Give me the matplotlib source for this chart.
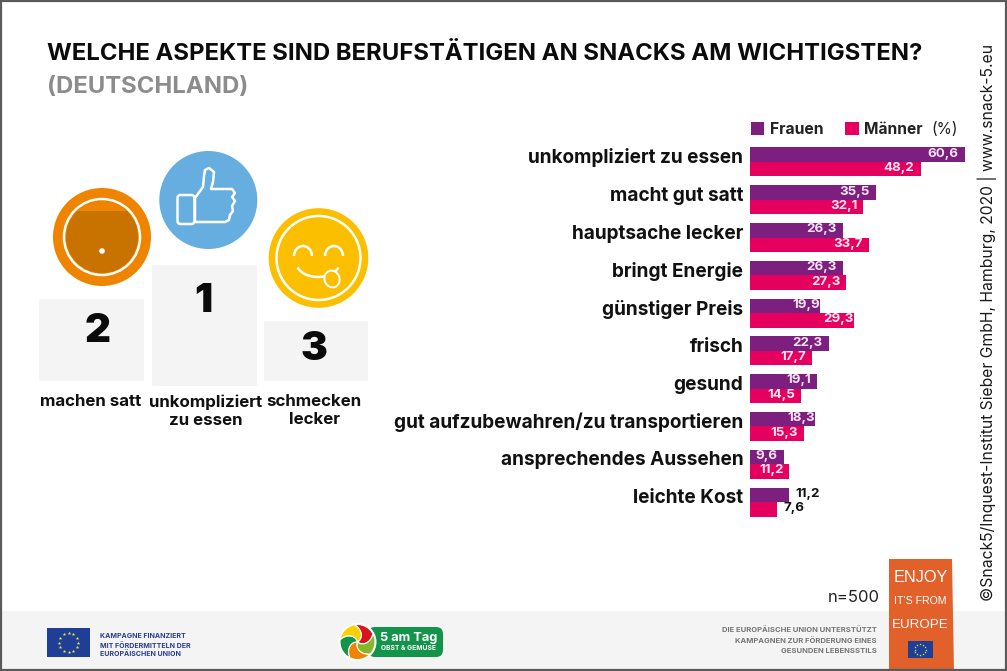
import numpy as np
import matplotlib
matplotlib.use('Agg')
import matplotlib.pyplot as plt
from matplotlib.patches import Circle, FancyBboxPatch, Rectangle, Polygon, Arc, Ellipse
from matplotlib.transforms import ScaledTranslation

# Daten
categories = ['unkompliziert zu essen', 'macht gut satt', 'hauptsache lecker', 'bringt Energie',
              'günstiger Preis', 'frisch', 'gesund', 'gut aufzubewahren/zu transportieren',
              'ansprechendes Aussehen', 'leichte Kost']
frauen = [60.6, 35.5, 26.3, 26.3, 19.9, 22.3, 19.1, 18.3, 9.6, 11.2]
maenner = [48.2, 32.1, 33.7, 27.3, 29.3, 17.7, 14.5, 15.3, 11.2, 7.6]
podium_ranks = ['2', '1', '3']
podium_labels = ['machen satt', 'unkompliziert\nzu essen', 'schmecken\nlecker']

W, H = 1007, 671
LILA = '#7d1f7f'
PINK = '#e5005f'
plt.rcParams['font.family'] = ['Inter', 'DejaVu Sans']

fig = plt.figure(figsize=(W / 100, H / 100), dpi=100)

# Hintergrund-Achse in Pixelkoordinaten
bg = fig.add_axes([0, 0, 1, 1])
bg.set_xlim(0, W)
bg.set_ylim(H, 0)
bg.axis('off')

bg.add_patch(Rectangle((0, 611), W, 60, fc='#f4f4f4', ec='none'))
bg.add_patch(Rectangle((0.5, 0.5), W - 2, H - 2, fc='none', ec='#5a5a5a', lw=1.6, zorder=10))

bg.text(47, 53.5, 'WELCHE ASPEKTE SIND BERUFSTÄTIGEN AN SNACKS AM WICHTIGSTEN?', fontsize=17.2,
        fontweight='bold', color='#0b0b0b', va='center', ha='left')
bg.text(47, 87, '(DEUTSCHLAND)', fontsize=17.2, fontweight='bold', color='#8c8c8c', va='center', ha='left')

# Podest
for x0, y0, x1, y1, rank, rx, ry in [(39, 299, 144, 381, podium_ranks[0], 98, 331),
                                     (152, 265, 257, 386, podium_ranks[1], 203, 301),
                                     (264, 321, 368, 381, podium_ranks[2], 314, 349)]:
    bg.add_patch(FancyBboxPatch((x0 + 2, y0 + 2), x1 - x0 - 4, y1 - y0 - 4,
                                boxstyle='round,pad=2', fc='#f4f4f4', ec='none'))
    bg.text(rx, ry, rank, fontsize=29, fontweight='black', color='#0b0b0b', ha='center', va='center')

for x, y, txt in [(91, 401, podium_labels[0]), (206, 411, podium_labels[1]), (314, 411, podium_labels[2])]:
    bg.text(x, y, txt, fontsize=12.2, fontweight='bold', color='#111111', ha='center', va='center', linespacing=1.25)

# Icon 2: Teller
bg.add_patch(Circle((102, 237), 49, fc='#ee8400', ec='none'))
bg.add_patch(Circle((102, 237), 38, fc='#ee8400', ec='white', lw=1.8))
bg.add_patch(Circle((102, 237), 36, fc='#c87300', ec='none'))
cut = Rectangle((60, 190), 84, 21, fc='#ee8400', ec='none')
bg.add_patch(cut)
cut.set_clip_path(Circle((102, 237), 36, transform=bg.transData))
bg.add_patch(Circle((102, 251), 2.8, fc='white', ec='none'))

# Icon 1: Daumen
bg.add_patch(Circle((208.3, 200), 49, fc='#66aee0', ec='none'))
bg.add_patch(FancyBboxPatch((177.5, 195), 17, 29, boxstyle='round,pad=0,rounding_size=3', fc='none', ec='white', lw=1.8))
thumb = [(195, 198), (203, 187), (204, 176), (205, 170), (209, 168), (214, 172), (213, 182), (211, 189),
         (232, 189), (235, 193), (232, 197), (235, 201), (232, 206), (233, 211), (230, 215), (229, 220), (225, 222),
         (195, 222)]
bg.add_patch(Polygon(thumb, closed=True, fc='none', ec='white', lw=1.8, joinstyle='round'))

# Icon 3: Smiley
bg.add_patch(Circle((318.5, 258), 49.8, fc='#fcbf00', ec='none'))
bg.add_patch(Circle((318.5, 258), 42, fc='none', ec='white', lw=1.8))
bg.add_patch(Arc((303, 256), 18, 20, theta1=180, theta2=360, ec='white', lw=1.8))
bg.add_patch(Arc((334, 256), 18, 20, theta1=180, theta2=360, ec='white', lw=1.8))
bg.add_patch(Arc((318, 262), 44, 30, theta1=15, theta2=165, ec='white', lw=1.8))
bg.add_patch(Ellipse((332, 279), 15, 17, angle=-20, fc='#fcbf00', ec='white', lw=1.4))

# Balken: x in Prozent, 3.545 px pro Prozentpunkt
x0_px, y_top, y_bot = 749.7, 143.1, 520.9
ax = fig.add_axes([x0_px / W, 1 - y_bot / H, 215 / W, (y_bot - y_top) / H])
ax.patch.set_alpha(0)
y = np.arange(len(categories))
bar_h = 14.5 / 37.8
ax.barh(y - bar_h / 2, frauen, height=bar_h, color=LILA)
ax.barh(y + bar_h / 2, maenner, height=bar_h, color=PINK)
ax.set_xlim(0, 215 / 3.545)
ax.set_ylim(len(categories) - 0.5, -0.5)
for s in ax.spines.values():
    s.set_visible(False)
ax.set_xticks([])
ax.set_yticks(y)
ax.set_yticklabels(categories, fontsize=13.7, fontweight='bold', color='#111111')
ax.tick_params(axis='y', length=0, pad=4.5)
# Beschriftungen stehen im Original etwas ueber der Gruppenmitte
for lab in ax.get_yticklabels():
    lab.set_transform(lab.get_transform() + ScaledTranslation(0, 0.06, fig.dpi_scale_trans))


def wert(v):
    return str(v).replace('.', ',')


# Werte sitzen im Original nicht ganz einheitlich: diese stehen buendig am Balkenende
buendig = {(4, 'f'), (4, 'm'), (7, 'f')}
letzte = len(categories) - 1
for i in range(letzte):
    ax.annotate(wert(frauen[i]), (frauen[i], i - bar_h / 2), xytext=(0 if (i, 'f') in buendig else -6, 1),
                textcoords='offset pixels', fontsize=9.6, fontweight='bold', color='#f3e4f2', ha='right', va='center')
    ax.annotate(wert(maenner[i]), (maenner[i], i + bar_h / 2), xytext=(0 if (i, 'm') in buendig else -6, 1),
                textcoords='offset pixels', fontsize=9.6, fontweight='bold', color='#fde6ef', ha='right', va='center')
# letzte Gruppe: Werte ausserhalb der Balken, schwarz
ax.annotate(wert(frauen[letzte]), (frauen[letzte], letzte - bar_h / 2), xytext=(6, 1), textcoords='offset pixels',
            fontsize=9.6, fontweight='bold', color='#111111', ha='left', va='center')
ax.annotate(wert(maenner[letzte]), (maenner[letzte], letzte + bar_h / 2), xytext=(7, 1), textcoords='offset pixels',
            fontsize=9.6, fontweight='bold', color='#111111', ha='left', va='center')

# Legende
bg.add_patch(Rectangle((751, 122), 13, 13, fc=LILA, ec='none'))
bg.text(770, 129.5, 'Frauen', fontsize=11.3, fontweight='bold', color='#222222', va='center')
bg.add_patch(Rectangle((845, 122), 14, 13, fc=PINK, ec='none'))
bg.text(864, 129.5, 'Männer', fontsize=11.2, fontweight='bold', color='#222222', va='center')
bg.text(931, 129.5, '(%)', fontsize=11.2, color='#222222', va='center')

# Quelle rechts
bg.text(987, 322, '©Snack5/Inquest-Institut Sieber GmbH, Hamburg, 2020 | www.snack-5.eu', rotation=90,
        fontsize=11.3, color='#1a1a1a', ha='center', va='center')
bg.text(880, 597, 'n=500', fontsize=12, color='#222222', ha='right', va='center')


def eu_flag(x, y, w, h, star):
    bg.add_patch(Rectangle((x, y), w, h, fc='#1f3f97', ec='none', zorder=4))
    a = np.radians(np.arange(0, 360, 30))
    r = h * 0.33
    bg.scatter(x + w / 2 + r * np.cos(a), y + h / 2 + r * np.sin(a), s=star, marker='*', c='#f0e442', linewidths=0, zorder=5)


# Fusszeile links
eu_flag(47, 628, 43, 29, 7)
for i, t in enumerate(['KAMPAGNE FINANZIERT', 'MIT FÖRDERMITTELN DER', 'EUROPÄISCHEN UNION']):
    bg.text(100, 636.5 + 8.7 * i, t, fontsize=5.05, fontweight='bold', color='#2c3e8f', va='center')

# Logo 5 am Tag
bg.add_patch(FancyBboxPatch((368, 627), 75, 30, boxstyle='round,pad=0,rounding_size=7', fc='#12954a', ec='none'))
bg.add_patch(Circle((357.5, 642), 19, fc='white', ec='none'))
t = np.linspace(0, 1, 16)
for a, col in [(-100, '#d8141c'), (-28, '#85b72a'), (44, '#ee8400'), (116, '#12954a'), (188, '#fbcf00')]:
    spirale = np.radians(a + 70 * (1 - t)), 17.5 * t
    aussen = np.radians(np.linspace(a, a + 72, 16))
    zurueck = np.radians(a + 72 + 70 * (1 - t[::-1])), 17.5 * t[::-1]
    th = np.r_[spirale[0], aussen, zurueck[0]]
    rr = np.r_[spirale[1], np.full(16, 17.5), zurueck[1]]
    bg.add_patch(Polygon(np.c_[357.5 + rr * np.cos(th), 642 + rr * np.sin(th)], closed=True, fc=col, ec='white', lw=0.8))
bg.text(408.5, 638, '5 am Tag', fontsize=9.2, fontweight='bold', color='white', ha='center', va='center')
bg.text(408.5, 648, 'OBST & GEMÜSE', fontsize=4.8, fontweight='bold', color='white', ha='center', va='center')

# Fusszeile rechts
for i, t in enumerate(['DIE EUROPÄISCHE UNION UNTERSTÜTZT', 'KAMPAGNEN ZUR FÖRDERUNG EINES', 'GESUNDEN LEBENSSTILS']):
    bg.text(877, 630 + 10.3 * i, t, fontsize=5.5, fontweight='bold', color='#77777a', ha='right', va='center')

# Enjoy-Fahne
bg.add_patch(Polygon([(889, 559), (952, 559), (954, 671), (889, 671)], closed=True, fc='#e2612a', ec='none'))
for yy, txt, fs in [(577, 'ENJOY', 11.7), (601.5, "IT'S FROM", 7.6), (624.5, 'EUROPE', 9.6)]:
    bg.text(920.5, yy, txt, fontsize=fs, color='white', ha='center', va='center', family=['Liberation Sans', 'DejaVu Sans'])
eu_flag(907.5, 641, 25.5, 17, 3)

fig.savefig('out.png', dpi=100)
